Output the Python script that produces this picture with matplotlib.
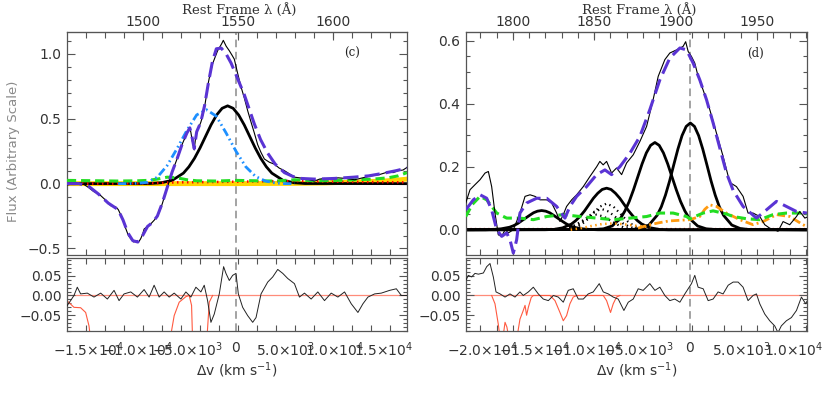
import numpy as np
import matplotlib
matplotlib.use('Agg')
import matplotlib.pyplot as plt
from matplotlib.ticker import FixedLocator, FixedFormatter, MultipleLocator

C_KMS = 299792.458
LAM0_C = 1549.06   # C IV
LAM0_D = 1908.73   # C III]

# ---------------- panel (c) : C IV, (velocity km/s, flux) ----------------
c_data = np.array([
    (-17200, -0.01), (-16800, -0.005), (-16400, 0.0), (-16000, -0.002), (-15500, -0.005),
    (-15000, -0.03), (-14500, -0.06), (-14100, -0.075), (-13800, -0.09), (-13300, -0.125),
    (-12750, -0.17), (-12500, -0.175), (-12240, -0.18), (-11980, -0.2), (-11730, -0.24),
    (-11450, -0.29), (-11200, -0.35), (-10950, -0.4), (-10700, -0.425), (-10400, -0.45),
    (-10200, -0.44), (-9950, -0.455), (-9700, -0.425), (-9500, -0.39), (-9350, -0.35),
    (-9000, -0.33), (-8670, -0.31), (-8300, -0.28), (-8000, -0.25), (-7700, -0.2),
    (-7480, -0.15), (-7200, -0.08), (-6970, -0.025), (-6700, 0.04), (-6460, 0.10),
    (-6200, 0.15), (-5950, 0.20), (-5700, 0.25), (-5440, 0.31), (-5100, 0.37),
    (-4760, 0.425), (-4600, 0.40), (-4450, 0.33), (-4250, 0.26), (-4100, 0.36),
    (-3910, 0.425), (-3750, 0.44), (-3570, 0.475), (-3400, 0.52), (-3230, 0.575),
    (-3050, 0.66), (-2890, 0.75), (-2650, 0.84), (-2380, 0.925), (-2100, 0.98),
    (-1870, 1.025), (-1600, 1.06), (-1450, 1.08), (-1290, 1.105), (-1000, 1.06),
    (-680, 1.025), (-400, 0.99), (-170, 0.96), (170, 0.85), (500, 0.75),
    (850, 0.66), (1200, 0.56), (1530, 0.475), (1870, 0.39), (2210, 0.30),
    (2550, 0.24), (2890, 0.19), (3400, 0.165), (3910, 0.15), (4400, 0.12),
    (4930, 0.10), (5450, 0.075), (5950, 0.05), (6450, 0.045), (6970, 0.04),
    (7500, 0.03), (7990, 0.02), (8500, 0.035), (9000, 0.04), (9700, 0.03),
    (10370, 0.045), (11200, 0.04), (12070, 0.03), (12900, 0.045), (13770, 0.06),
    (14600, 0.07), (15470, 0.09), (16000, 0.085), (16490, 0.10), (17000, 0.105),
    (17400, 0.125)])

c_total = np.array([
    (-17200, 0.0), (-16000, 0.0), (-15000, -0.02), (-14000, -0.08), (-13000, -0.15),
    (-12000, -0.2), (-11500, -0.28), (-11000, -0.38), (-10500, -0.44), (-10000, -0.45),
    (-9500, -0.4), (-9000, -0.33), (-8500, -0.3), (-8000, -0.25), (-7500, -0.15),
    (-7000, -0.03), (-6500, 0.09), (-6000, 0.19), (-5500, 0.30), (-5000, 0.39),
    (-4700, 0.43), (-4500, 0.37), (-4250, 0.27), (-4000, 0.40), (-3600, 0.47),
    (-3200, 0.6), (-2800, 0.78), (-2400, 0.94), (-2000, 1.04), (-1500, 1.045),
    (-1000, 1.0), (-500, 0.93), (0, 0.84), (850, 0.685), (1870, 0.46),
    (2500, 0.34), (3230, 0.235), (4000, 0.15), (4930, 0.085), (5800, 0.055),
    (6630, 0.04), (8000, 0.035), (10000, 0.04), (12000, 0.05), (13500, 0.06),
    (15000, 0.08), (16300, 0.1), (17400, 0.12)])

c_blue = np.array([
    (-12000, 0.0), (-11000, 0.0), (-10000, 0.003), (-9000, 0.01), (-8000, 0.05),
    (-7000, 0.14), (-6000, 0.27), (-5000, 0.41), (-4000, 0.53), (-3000, 0.57),
    (-2000, 0.52), (-1000, 0.39), (0, 0.25), (1000, 0.13), (2000, 0.055),
    (3000, 0.02), (4000, 0.005), (5000, 0.0), (6000, 0.0)])

c_gauss = np.array([
    (-17200, 0.0), (-8725, 0.001), (-7600, 0.007), (-6475, 0.026), (-5350, 0.081),
    (-4790, 0.13), (-4225, 0.195), (-3660, 0.275), (-3100, 0.364), (-2540, 0.453),
    (-1975, 0.529), (-1410, 0.581), (-850, 0.6), (-290, 0.581), (275, 0.529),
    (840, 0.453), (1400, 0.364), (1960, 0.275), (2525, 0.195), (3090, 0.13),
    (3650, 0.081), (4775, 0.026), (5900, 0.007), (7025, 0.001), (17400, 0.0)])

c_green = np.array([
    (-17200, 0.025), (-14000, 0.022), (-12000, 0.02), (-10000, 0.022), (-9000, 0.025),
    (-8000, 0.035), (-7000, 0.05), (-6000, 0.045), (-5000, 0.03), (-4000, 0.022),
    (-2000, 0.02), (0, 0.025), (2000, 0.022), (4000, 0.02), (6000, 0.03),
    (8000, 0.022), (10000, 0.025), (12000, 0.03), (14000, 0.035), (15500, 0.045),
    (16500, 0.06), (17400, 0.085)])

c_red = np.array([
    (-17200, 0.0), (-10000, 0.002), (-8000, 0.005), (-6000, 0.01), (-3000, 0.012),
    (0, 0.015), (3000, 0.018), (6000, 0.02), (10000, 0.015), (14000, 0.012),
    (17400, 0.01)])

c_yellow = np.array([
    (-17200, 0.0), (0, 0.0), (6000, 0.002), (9000, 0.005), (11000, 0.01),
    (13000, 0.015), (15000, 0.02), (16500, 0.028), (17400, 0.035)])

c_resid = np.array([
    (-17200, -0.026), (-16830, -0.013), (-16490, 0.0), (-16150, 0.021), (-15810, 0.004),
    (-15130, 0.006), (-14450, -0.004), (-13770, 0.006), (-13090, -0.009), (-12410, 0.013),
    (-11900, -0.013), (-11390, 0.004), (-10710, 0.009), (-10030, -0.004), (-9350, 0.015),
    (-8840, -0.004), (-8330, 0.026), (-7820, -0.004), (-7310, 0.009), (-6800, -0.004),
    (-6290, 0.006), (-5610, -0.009), (-5100, 0.009), (-4590, -0.004), (-4080, 0.021),
    (-3570, 0.009), (-3230, 0.026), (-2890, -0.013), (-2550, -0.068), (-2210, -0.047),
    (-1700, 0.004), (-1260, 0.073), (-1020, 0.056), (-680, 0.038), (-340, 0.051),
    (0, 0.056), (240, 0.004), (680, -0.03), (1190, -0.051), (1700, -0.068),
    (2040, -0.056), (2550, 0.004), (3230, 0.034), (3740, 0.047), (4250, 0.066),
    (4760, 0.056), (5270, 0.043), (5950, 0.030), (6460, -0.004), (6970, 0.006),
    (7650, -0.009), (8330, 0.009), (9010, -0.013), (9690, 0.006), (10370, -0.004),
    (11050, 0.009), (11730, -0.021), (12410, -0.043), (12920, -0.021), (13430, -0.004),
    (14110, 0.004), (14790, 0.006), (15640, 0.013), (16320, 0.017), (16830, 0.0),
    (17400, 0.0)])

c_resid_red = np.array([
    (-17200, -0.013), (-16490, -0.03), (-15810, -0.031), (-15300, -0.043), (-14960, -0.077),
    (-14800, -0.11), (np.nan, np.nan),
    (-6700, -0.11), (-6290, -0.051), (-5780, -0.017), (-5100, -0.003), (-4760, 0.0),
    (-4520, -0.025), (-4420, -0.11), (np.nan, np.nan),
    (-2960, -0.11), (-2720, -0.017), (-2380, 0.0)])

# ---------------- panel (d) : C III] ----------------
d_data = np.array([
    (-21620, 0.085), (-21210, 0.127), (-20730, 0.143), (-20240, 0.159), (-19760, 0.18),
    (-19440, 0.185), (-19120, 0.137), (-18800, 0.053), (-18480, -0.016), (-18150, -0.021),
    (-17830, 0.0), (-17510, -0.01), (-17030, 0.0), (-16390, 0.053), (-15900, 0.106),
    (-15420, 0.111), (-14940, 0.106), (-14460, 0.095), (-13810, 0.095), (-13330, 0.085),
    (-12850, 0.053), (-12530, 0.026), (-12210, 0.048), (-11890, 0.074), (-11400, 0.095),
    (-10920, 0.111), (-10280, 0.137), (-9640, 0.169), (-8990, 0.2), (-8680, 0.217),
    (-8360, 0.206), (-8030, 0.217), (-7550, 0.18), (-7070, 0.196), (-6580, 0.175),
    (-6100, 0.212), (-5460, 0.238), (-4820, 0.28), (-4170, 0.328), (-3540, 0.413),
    (-3050, 0.487), (-2410, 0.54), (-1930, 0.561), (-1280, 0.571), (-650, 0.582),
    (-400, 0.597), (-160, 0.566), (160, 0.55), (480, 0.529), (800, 0.487),
    (1280, 0.444), (1930, 0.381), (2570, 0.307), (3210, 0.233), (3860, 0.15),
    (4500, 0.137), (5140, 0.106), (5620, 0.053), (6100, 0.053), (6750, 0.042),
    (7230, 0.016), (7710, 0.005), (8190, 0.0), (8510, -0.005), (9000, 0.026),
    (9640, 0.016), (10290, 0.042), (10610, 0.058), (11100, 0.037), (11300, 0.04)])

d_total = np.array([
    (-21620, 0.063), (-20890, 0.095), (-20240, 0.111), (-19600, 0.1), (-19120, 0.063),
    (-18630, 0.0), (-18150, -0.021), (-17670, -0.01), (-17350, -0.032), (-17030, -0.074),
    (-16710, -0.032), (-16390, 0.053), (-15740, 0.085), (-14780, 0.1), (-13810, 0.1),
    (-12850, 0.074), (-12050, 0.037), (-11570, 0.074), (-10920, 0.106), (-9960, 0.137),
    (-8990, 0.175), (-8190, 0.19), (-7550, 0.175), (-6750, 0.2), (-5780, 0.243),
    (-4820, 0.296), (-3860, 0.381), (-2890, 0.476), (-1930, 0.545), (-960, 0.577),
    (-320, 0.571), (320, 0.529), (960, 0.476), (1610, 0.413), (2250, 0.339),
    (2890, 0.26), (3540, 0.18), (4180, 0.125), (5140, 0.074), (6430, 0.037),
    (7390, 0.063), (8360, 0.09), (9320, 0.074), (10290, 0.058), (11300, 0.053)])

d_green = np.array([
    (-21620, 0.042), (-21000, 0.08), (-20240, 0.106), (-19600, 0.095), (-18630, 0.053),
    (-17670, 0.037), (-16390, 0.037), (-15100, 0.032), (-13810, 0.042), (-12210, 0.048),
    (-10600, 0.042), (-8990, 0.037), (-7390, 0.032), (-5780, 0.037), (-4170, 0.042),
    (-2890, 0.053), (-1610, 0.053), (-320, 0.042), (0, 0.035), (1280, 0.053),
    (2250, 0.06), (2890, 0.055), (3540, 0.05), (4180, 0.042), (5460, 0.035),
    (6750, 0.032), (8030, 0.048), (9320, 0.053), (10920, 0.053), (11300, 0.05)])

d_orange_dot = np.array([
    (-11500, 0.0), (-10500, 0.005), (-9500, 0.012), (-8500, 0.018), (-7500, 0.02),
    (-6500, 0.018), (-5500, 0.014), (-4500, 0.01), (-3800, 0.008)])

d_orange = np.array([
    (-5000, 0.005), (-4000, 0.015), (-3000, 0.022), (-2000, 0.028), (-1000, 0.03),
    (0, 0.032), (960, 0.042), (1450, 0.065), (1930, 0.079), (2570, 0.074),
    (3540, 0.053), (4820, 0.032), (6100, 0.016), (7070, 0.026), (8360, 0.048),
    (9640, 0.042), (10920, 0.016), (11300, 0.01)])

d_red = np.array([(-21600, 0.002), (11300, 0.002)])

# broad components (solid black)
d_g1 = np.array([
    (-21600, 0.0), (-19700, 0.0), (-18950, 0.001), (-18200, 0.003), (-17400, 0.008),
    (-17000, 0.013), (-16600, 0.020), (-16250, 0.028), (-15850, 0.037), (-15450, 0.046),
    (-15080, 0.054), (-14700, 0.059), (-14300, 0.061), (-13900, 0.059), (-13520, 0.054),
    (-13150, 0.046), (-12750, 0.037), (-12350, 0.028), (-11980, 0.020), (-11600, 0.013),
    (-11200, 0.008), (-10420, 0.003), (-9650, 0.001), (-8880, 0.0), (11300, 0.0)])
d_g2 = np.array([
    (-21600, 0.0), (-13980, 0.0), (-13130, 0.001), (-12280, 0.006), (-11430, 0.018),
    (-11005, 0.029), (-10580, 0.043), (-10155, 0.060), (-9730, 0.080), (-9305, 0.100),
    (-8880, 0.116), (-8455, 0.128), (-8030, 0.132), (-7605, 0.128), (-7180, 0.116),
    (-6755, 0.100), (-6330, 0.080), (-5905, 0.060), (-5480, 0.043), (-5055, 0.029),
    (-4630, 0.018), (-3780, 0.006), (-2930, 0.001), (-2080, 0.0), (11300, 0.0)])
d_g3 = np.array([
    (-21600, 0.0), (-9145, 0.001), (-8320, 0.003), (-7495, 0.012), (-6670, 0.037),
    (-6257, 0.060), (-5845, 0.090), (-5432, 0.127), (-5020, 0.168), (-4607, 0.209),
    (-4195, 0.244), (-3782, 0.268), (-3370, 0.277), (-2957, 0.268), (-2545, 0.244),
    (-2132, 0.209), (-1720, 0.168), (-1307, 0.127), (-895, 0.090), (-482, 0.060),
    (-70, 0.037), (755, 0.012), (1580, 0.003), (2405, 0.001), (11300, 0.0)])
d_g4 = np.array([
    (-21600, 0.0), (-5550, 0.001), (-4750, 0.004), (-3950, 0.015), (-3150, 0.046),
    (-2750, 0.073), (-2350, 0.110), (-1950, 0.155), (-1550, 0.206), (-1150, 0.256),
    (-750, 0.299), (-350, 0.328), (50, 0.339), (450, 0.328), (850, 0.299),
    (1250, 0.256), (1650, 0.206), (2050, 0.155), (2450, 0.110), (2850, 0.073),
    (3250, 0.046), (4050, 0.015), (4850, 0.004), (5650, 0.001), (11300, 0.0)])

# narrow components (dotted black)
d_n1 = np.array([
    (-12080, 0.001), (-11405, 0.004), (-10730, 0.011), (-10055, 0.027), (-9380, 0.050),
    (-8705, 0.073), (-8030, 0.083), (-7355, 0.073), (-6680, 0.050), (-6005, 0.027),
    (-5330, 0.011), (-4655, 0.004), (-3980, 0.001)])
d_n2 = np.array([
    (-12560, 0.001), (-11885, 0.003), (-11210, 0.009), (-10535, 0.021), (-9860, 0.040),
    (-9185, 0.058), (-8510, 0.066), (-7835, 0.058), (-7160, 0.040), (-6485, 0.021),
    (-5810, 0.009), (-5135, 0.003), (-4460, 0.001)])
d_n3 = np.array([
    (-13040, 0.001), (-12365, 0.002), (-11690, 0.006), (-11015, 0.016), (-10340, 0.029),
    (-9665, 0.042), (-8990, 0.048), (-8315, 0.042), (-7640, 0.029), (-6965, 0.016),
    (-6290, 0.006), (-5615, 0.002), (-4940, 0.001)])

d_resid = np.array([
    (-21620, 0.038), (-21370, 0.051), (-21050, 0.047), (-20730, 0.056), (-20400, 0.054),
    (-19920, 0.057), (-19600, 0.073), (-19280, 0.081), (-18960, 0.047), (-18700, 0.009),
    (-18310, 0.004), (-17830, -0.004), (-17350, 0.004), (-16870, -0.004), (-16390, 0.009),
    (-16070, 0.0), (-15580, 0.009), (-15100, 0.021), (-14620, 0.004), (-14140, -0.009),
    (-13650, -0.013), (-13170, 0.0), (-12690, -0.004), (-12210, -0.017), (-11730, 0.013),
    (-11250, 0.017), (-10760, -0.009), (-10280, -0.009), (-9800, 0.004), (-9320, 0.009),
    (-8740, 0.030), (-8350, 0.009), (-7870, 0.004), (-7390, -0.004), (-6910, -0.009),
    (-6360, -0.038), (-5940, -0.017), (-5460, -0.009), (-4980, 0.017), (-4500, 0.013),
    (-3860, 0.030), (-3370, 0.013), (-2890, 0.021), (-2410, 0.0), (-1930, -0.013),
    (-1450, -0.009), (-960, -0.017), (-480, 0.004), (-160, 0.017), (160, 0.030),
    (480, 0.051), (800, 0.021), (1290, 0.017), (1770, -0.013), (2250, -0.009),
    (2730, 0.009), (3210, 0.004), (3700, 0.026), (4180, 0.034), (4660, 0.034),
    (5140, 0.021), (5620, -0.013), (6100, 0.0), (6430, 0.004), (6750, -0.021),
    (7230, -0.047), (7710, -0.064), (8190, -0.077), (8510, -0.094), (8830, -0.077),
    (9320, -0.064), (9800, -0.056), (10290, -0.038), (10770, -0.004), (11180, -0.021),
    (11300, -0.015)])

d_resid_red = np.array([
    (-19120, 0.0), (-18800, -0.021), (-18480, -0.073), (-18300, -0.11), (-18050, -0.11),
    (-17830, -0.068), (-17650, -0.08), (-17450, -0.11), (-16700, -0.11), (-16390, -0.06),
    (-16100, -0.04), (-15900, -0.025), (-15750, -0.05), (-15580, -0.03), (-15300, -0.005),
    (-15100, 0.0), (-13490, 0.0), (-13010, -0.013), (-12530, -0.043), (-12210, -0.064),
    (-11890, -0.051), (-11570, -0.021), (-11250, -0.004), (-10900, 0.0), (-8350, 0.0),
    (-8030, -0.013), (-7650, -0.043), (-7390, -0.021), (-7070, -0.004), (-6750, 0.0)])

c_vticks = [-15000, -10000, -5000, 0, 5000, 10000, 15000]
c_vlabels = [r'$-1.5{\times}10^{4}$', r'$-1.0{\times}10^{4}$', r'$-5.0{\times}10^{3}$', '0',
             r'$5.0{\times}10^{3}$', r'$1.0{\times}10^{4}$', r'$1.5{\times}10^{4}$']
d_vticks = [-20000, -15000, -10000, -5000, 0, 5000, 10000]
d_vlabels = [r'$-2.0{\times}10^{4}$', r'$-1.5{\times}10^{4}$', r'$-1.0{\times}10^{4}$',
             r'$-5.0{\times}10^{3}$', '0', r'$5.0{\times}10^{3}$', r'$1.0{\times}10^{4}$']

FRAME = '#555555'
TXT = '#333333'
VLINE = '#8a8a8a'


def frame_axes(ax, lam0, lam_lo, lam_hi, vticks, vlabels, bottom_labels):
    # wavelength ticks every 10 A, drawn on the velocity axis
    minor = [(lam / lam0 - 1.0) * C_KMS for lam in range(lam_lo, lam_hi + 1, 10)]
    ax.xaxis.set_major_locator(FixedLocator(vticks))
    ax.xaxis.set_major_formatter(FixedFormatter(vlabels))
    ax.xaxis.set_minor_locator(FixedLocator(minor))
    ax.tick_params(axis='x', which='major', length=0, pad=7, labelsize=10,
                   labelcolor=TXT, labelbottom=bottom_labels)
    ax.tick_params(axis='x', which='minor', direction='in', length=4, width=0.8,
                   color=FRAME, top=True, bottom=True)
    ax.tick_params(axis='y', which='both', direction='in', left=True, right=True,
                   color=FRAME, width=0.8, labelsize=10, labelcolor=TXT, pad=4)
    ax.tick_params(axis='y', which='major', length=6)
    ax.tick_params(axis='y', which='minor', length=3)
    for sp in ax.spines.values():
        sp.set_color(FRAME)
        sp.set_linewidth(0.9)


def top_axis(ax, lam0, lam_major):
    sec = ax.secondary_xaxis('top', functions=(lambda v: lam0 * (1 + v / C_KMS),
                                               lambda l: (l / lam0 - 1) * C_KMS))
    sec.set_xticks(lam_major)
    sec.set_xticklabels([str(l) for l in lam_major])
    sec.tick_params(direction='in', length=6, width=0.8, color=FRAME,
                    labelsize=10, labelcolor=TXT, pad=2)
    sec.spines['top'].set_color(FRAME)
    return sec


fig = plt.figure(figsize=(8.3, 3.99), dpi=100)
ax_c = fig.add_axes([0.0807, 0.361, 0.4096, 0.559])
ax_cr = fig.add_axes([0.0807, 0.1704, 0.4096, 0.183])
ax_d = fig.add_axes([0.5614, 0.361, 0.4108, 0.559])
ax_dr = fig.add_axes([0.5614, 0.1704, 0.4108, 0.183])

# ---- (c) top ----
ax_c.plot(c_yellow[:, 0], c_yellow[:, 1], color='#ffd400', lw=3.5, zorder=1)
ax_c.plot(c_gauss[:, 0], c_gauss[:, 1], color='black', lw=2.0, zorder=2)
ax_c.plot(c_red[:, 0], c_red[:, 1], color='red', lw=1.8, dashes=(0.6, 1.4), zorder=3)
ax_c.plot(c_green[:, 0], c_green[:, 1], color='#22dd22', lw=2.2, dashes=(3, 1.6), zorder=3)
ax_c.plot(c_blue[:, 0], c_blue[:, 1], color='#1e90ff', lw=2.0,
          dashes=(3, 1.2, 0.6, 1.2, 0.6, 1.2), zorder=4)
ax_c.plot(c_data[:, 0], c_data[:, 1], color='black', lw=0.8, zorder=5)
ax_c.plot(c_total[:, 0], c_total[:, 1], color='#5a34d4', lw=2.2, dashes=(5, 2), zorder=6)
ax_c.axvline(0, color=VLINE, lw=1.1, dashes=(5, 3), zorder=0)
ax_c.set_xlim(-17200, 17400)
ax_c.set_ylim(-0.55, 1.17)
ax_c.yaxis.set_major_locator(FixedLocator([-0.5, 0.0, 0.5, 1.0]))
ax_c.yaxis.set_minor_locator(MultipleLocator(0.1))
frame_axes(ax_c, LAM0_C, 1460, 1640, c_vticks, c_vlabels, False)
top_axis(ax_c, LAM0_C, [1500, 1550, 1600])
ax_c.text(0.84, 0.905, '(c)', transform=ax_c.transAxes, family='DejaVu Serif',
          fontsize=8.5, color='#222222', ha='center', va='center')

# ---- (c) residual ----
ax_cr.axhline(0, color='#ff8c7a', lw=0.9, zorder=1)
ax_cr.plot(c_resid_red[:, 0], c_resid_red[:, 1], color='#ff5a40', lw=0.8, zorder=2)
ax_cr.plot(c_resid[:, 0], c_resid[:, 1], color='#222222', lw=0.7, zorder=3)
ax_cr.axvline(0, color=VLINE, lw=1.1, dashes=(5, 3), zorder=0)
ax_cr.set_xlim(-17200, 17400)
ax_cr.set_ylim(-0.09, 0.095)
ax_cr.yaxis.set_major_locator(FixedLocator([-0.05, 0.0, 0.05]))
ax_cr.yaxis.set_major_formatter(FixedFormatter(['\u22120.05', '0.00', '0.05']))
ax_cr.yaxis.set_minor_locator(MultipleLocator(0.01))
frame_axes(ax_cr, LAM0_C, 1460, 1640, c_vticks, c_vlabels, True)
ax_cr.set_xlabel(r'$\Delta$v (km s$^{-1}$)', fontsize=10, color=TXT, labelpad=1)

# ---- (d) top ----
ax_d.plot(d_red[:, 0], d_red[:, 1], color='red', lw=1.6, dashes=(0.6, 1.4), zorder=1)
for g in (d_g1, d_g2, d_g3, d_g4):
    ax_d.plot(g[:, 0], g[:, 1], color='black', lw=2.0, zorder=2)
for n in (d_n1, d_n2, d_n3):
    ax_d.plot(n[:, 0], n[:, 1], color='black', lw=1.6, dashes=(0.6, 1.6), zorder=2)
ax_d.plot(d_orange_dot[:, 0], d_orange_dot[:, 1], color='#ff9a10', lw=1.8,
          dashes=(0.6, 1.4), zorder=3)
ax_d.plot(d_orange[:, 0], d_orange[:, 1], color='#ff9a10', lw=2.0,
          dashes=(3, 1.2, 0.7, 1.2), zorder=3)
ax_d.plot(d_green[:, 0], d_green[:, 1], color='#22dd22', lw=2.2, dashes=(3, 1.6), zorder=3)
ax_d.plot(d_data[:, 0], d_data[:, 1], color='black', lw=0.8, zorder=5)
ax_d.plot(d_total[:, 0], d_total[:, 1], color='#5a34d4', lw=2.2, dashes=(5, 2), zorder=6)
ax_d.axvline(0, color=VLINE, lw=1.1, dashes=(5, 3), zorder=0)
ax_d.set_xlim(-21600, 11300)
ax_d.set_ylim(-0.08, 0.628)
ax_d.yaxis.set_major_locator(FixedLocator([0.0, 0.2, 0.4, 0.6]))
ax_d.yaxis.set_minor_locator(MultipleLocator(0.05))
frame_axes(ax_d, LAM0_D, 1780, 1980, d_vticks, d_vlabels, False)
top_axis(ax_d, LAM0_D, [1800, 1850, 1900, 1950])
ax_d.text(0.848, 0.905, '(d)', transform=ax_d.transAxes, family='DejaVu Serif',
          fontsize=8.5, color='#222222', ha='center', va='center')

# ---- (d) residual ----
ax_dr.axhline(0, color='#ff8c7a', lw=0.9, zorder=1)
ax_dr.plot(d_resid_red[:, 0], d_resid_red[:, 1], color='#ff5a40', lw=0.8, zorder=2)
ax_dr.plot(d_resid[:, 0], d_resid[:, 1], color='#222222', lw=0.7, zorder=3)
ax_dr.axvline(0, color=VLINE, lw=1.1, dashes=(5, 3), zorder=0)
ax_dr.set_xlim(-21600, 11300)
ax_dr.set_ylim(-0.09, 0.095)
ax_dr.yaxis.set_major_locator(FixedLocator([-0.05, 0.0, 0.05]))
ax_dr.yaxis.set_major_formatter(FixedFormatter(['\u22120.05', '0.00', '0.05']))
ax_dr.yaxis.set_minor_locator(MultipleLocator(0.01))
frame_axes(ax_dr, LAM0_D, 1780, 1980, d_vticks, d_vlabels, True)
ax_dr.set_xlabel(r'$\Delta$v (km s$^{-1}$)', fontsize=10, color=TXT, labelpad=1)

# titles above the wavelength axes, y label
fig.text(239 / 830, 1 - 10 / 399, 'Rest Frame \u03bb (\u00c5)', family='DejaVu Serif',
         fontsize=9.5, color=TXT, ha='center', va='center')
fig.text(639 / 830, 1 - 10 / 399, 'Rest Frame \u03bb (\u00c5)', family='DejaVu Serif',
         fontsize=9.5, color=TXT, ha='center', va='center')
fig.text(13 / 830, 1 - 151 / 399, 'Flux (Arbitrary Scale)', rotation=90, fontsize=9.5,
         color='#8a8a8a', ha='center', va='center')

fig.savefig('out.png', dpi=100)
